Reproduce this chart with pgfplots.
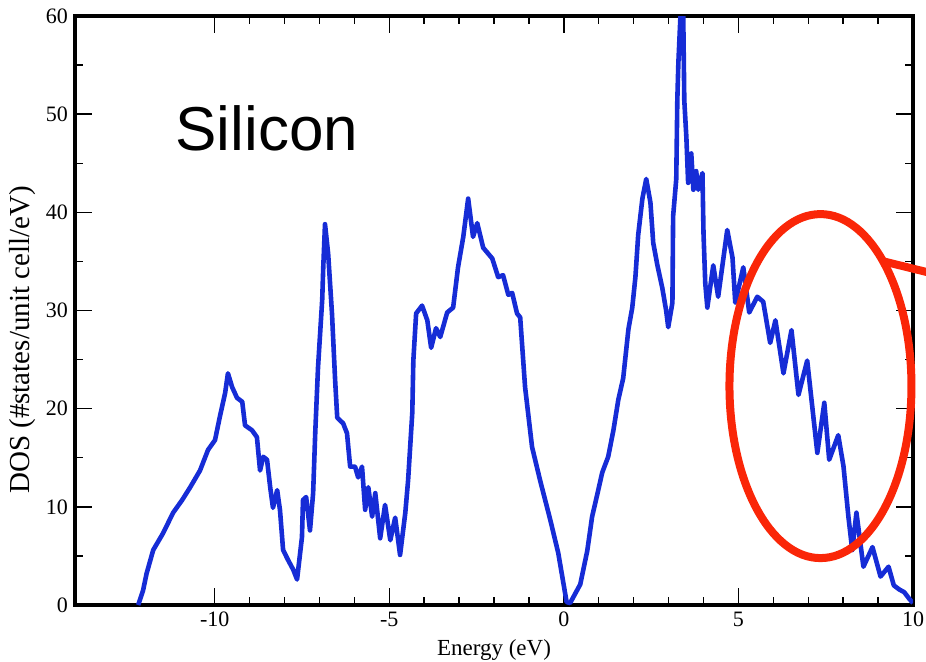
\documentclass[border=0pt]{standalone}
\usepackage{fontspec}
\setmainfont{Liberation Serif}
\newfontfamily\sansf{Liberation Sans}
\usepackage{pgfplots}
\pgfplotsset{compat=1.18}
\definecolor{dosblue}{RGB}{22,44,214}
\definecolor{ellred}{RGB}{250,38,8}
\begin{document}
\begin{tikzpicture}
\begin{axis}[
  scale only axis, width=419pt, height=294.5pt,
  xmin=-14, xmax=10, ymin=0, ymax=60,
  xtick={-10,-5,0,5,10}, ytick={0,10,...,60},
  minor x tick num=4, minor y tick num=1,
  tick align=inside,
  major tick length=8.5pt, minor tick length=4pt,
  axis line style={line width=2.2pt},
  every tick/.style={black, line width=0.7pt},
  tick label style={font=\fontsize{11}{11}\selectfont},
  /pgf/number format/assume math mode=true,
  xlabel={Energy (eV)},
  ylabel={DOS (\#states/unit cell/eV)},
  xlabel style={font=\fontsize{11.5}{12}\selectfont, at={(axis description cs:0.5,-0.085)}, anchor=base},
  ylabel style={font=\fontsize{14.5}{15}\selectfont, at={(axis description cs:-0.063,0.45)}, anchor=center},
  clip mode=individual,
]
\addplot[dosblue, line width=2.3pt, line join=round] table {
-12.19 0
-12.05 1.5
-11.95 3.2
-11.76 5.6
-11.48 7.3
-11.19 9.4
-10.93 10.7
-10.70 12.0
-10.42 13.7
-10.19 15.8
-9.99 16.8
-9.85 19.2
-9.70 21.6
-9.62 23.6
-9.50 22.2
-9.36 21.1
-9.21 20.7
-9.13 18.3
-8.93 17.8
-8.79 17.1
-8.70 13.7
-8.61 15.1
-8.50 14.8
-8.41 12.0
-8.33 9.9
-8.21 11.7
-8.13 9.7
-8.04 5.6
-7.90 4.6
-7.75 3.6
-7.64 2.6
-7.50 6.9
-7.47 10.7
-7.38 11.0
-7.27 7.6
-7.18 11.4
-7.12 17.5
-7.04 24.2
-6.92 31.1
-6.89 34.4
-6.84 38.8
-6.75 35.8
-6.64 29.7
-6.55 22.9
-6.49 19.1
-6.32 18.5
-6.21 17.5
-6.12 14.1
-5.98 14.1
-5.89 13.0
-5.78 14.1
-5.69 9.7
-5.60 12.0
-5.49 9.0
-5.40 11.4
-5.26 6.8
-5.12 10.2
-4.97 6.6
-4.83 8.9
-4.69 5.1
-4.54 9.4
-4.46 12.7
-4.34 19.6
-4.31 24.9
-4.23 29.7
-4.06 30.5
-3.91 29.0
-3.80 26.2
-3.66 28.2
-3.54 27.3
-3.34 29.8
-3.17 30.3
-3.03 34.4
-2.88 37.5
-2.74 41.4
-2.60 37.5
-2.48 38.9
-2.31 36.4
-2.05 35.3
-1.88 33.4
-1.74 33.6
-1.59 31.6
-1.48 31.8
-1.34 29.7
-1.25 29.3
-1.11 22.2
-0.91 16.1
-0.68 12.7
-0.39 8.7
-0.16 5.3
0.08 0.3
0.18 0.2
0.47 2.1
0.67 5.5
0.81 9.0
0.96 11.3
1.10 13.5
1.27 15.1
1.42 17.8
1.56 20.9
1.70 23.1
1.76 25.1
1.85 28.1
1.96 30.3
2.05 33.4
2.13 37.7
2.25 41.4
2.36 43.4
2.48 41.0
2.56 36.9
2.68 34.6
2.82 32.3
2.93 30.0
2.99 28.3
3.11 30.8
3.13 39.6
3.22 43.4
3.25 51.4
3.28 55.2
3.34 60
3.42 60
3.45 51.4
3.51 47.6
3.56 43.0
3.65 46.0
3.71 42.3
3.79 44.2
3.85 42.3
3.97 44.0
4.00 37.9
4.05 32.8
4.11 30.3
4.28 34.6
4.42 31.4
4.68 38.2
4.83 35.4
4.91 30.8
5.14 34.4
5.31 29.8
5.54 31.4
5.71 30.9
5.91 26.7
6.06 29.0
6.29 23.6
6.52 28.0
6.72 21.4
6.97 24.9
7.26 15.5
7.46 20.6
7.60 14.8
7.86 17.3
8.01 14.1
8.15 9.0
8.26 5.6
8.38 9.4
8.58 3.9
8.84 5.9
9.07 2.9
9.30 3.9
9.45 2.0
9.60 1.6
9.75 1.3
9.90 0.6
10.0 0.2
};
\node[anchor=base west, inner sep=0pt, font=\sansf\fontsize{31}{31}\selectfont] at (axis cs:-11.13,46.3) {Silicon};
\draw[ellred, line width=4pt] (axis cs:7.35,22.3) ellipse [x radius=45.5pt, y radius=86pt];
\end{axis}
\draw[ellred, line width=4pt] (403.5pt,172pt) -- (440pt,163pt);
\pgfresetboundingbox
\path (-37.5pt,-28pt) rectangle (425.5pt,302.5pt);
\end{tikzpicture}
\end{document}
